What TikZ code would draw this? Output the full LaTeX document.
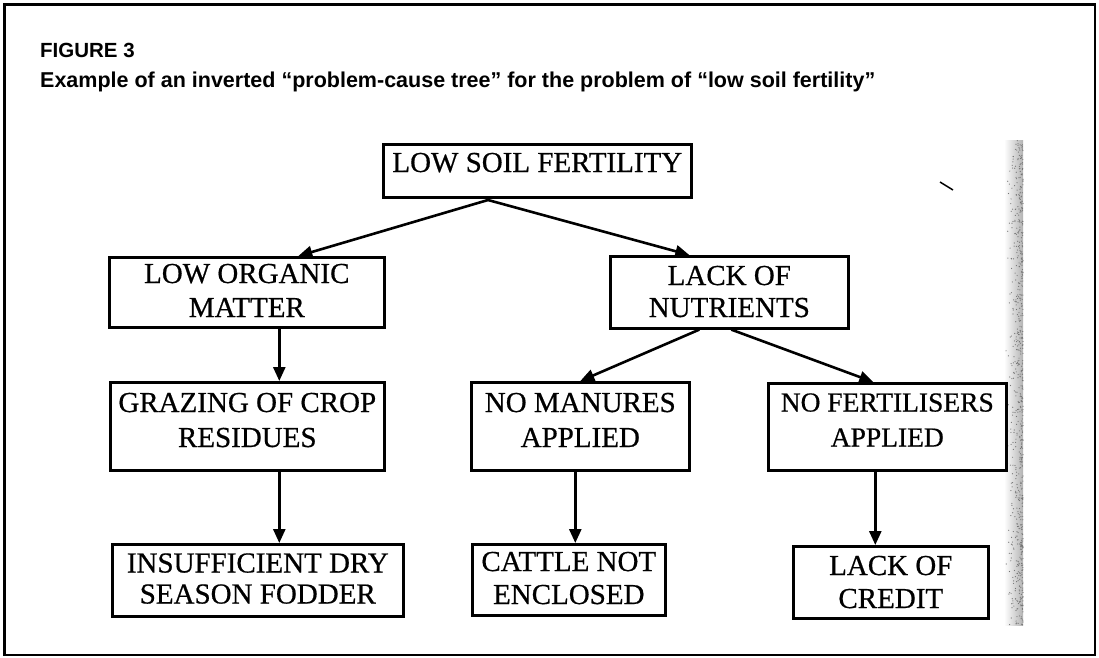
\documentclass[tikz,border=0pt]{standalone}
\usepackage{fontspec}
\setmainfont{Liberation Serif}[FakeBold=0.6]
\newfontfamily\hfont{Liberation Sans}
\usetikzlibrary{arrows.meta}
% box text: width, height, top gap, line spacing, font size, lines
\newcommand{\btext}[6]{\parbox[c][#2pt][t]{#1pt}{\centering\fontsize{#5}{#4}\selectfont\vspace*{#3pt}#6\par}}
\begin{document}
\begin{tikzpicture}[x=1pt,y=-1pt,
  box/.style={draw, line width=2.6pt, inner sep=0pt, anchor=north west},
  arr/.style={line width=2.6pt, -{Triangle[length=14pt,width=12pt]}},
  ttl/.style={anchor=base west, inner sep=0pt}]
\useasboundingbox (0,0) rectangle (1099,657);
\draw[line width=2.5pt] (4.5,4.5) rectangle (1095,655);

% scan artefacts
\pgfmathsetseed{7}
\shade[left color=white, right color=black!30] (1004,140) rectangle (1023,625);
\foreach \i in {1,...,700}{
  \fill[black!55] ({1023-19*rnd*rnd},{140+485*rnd}) circle (0.6pt);
}
\draw[line width=1.5pt] (940,182) -- (953,190);

\node[ttl, font=\hfont\bfseries\fontsize{20.5}{21}\selectfont] (fig) at (40,57) {FIGURE 3};
\node[ttl, font=\hfont\bfseries\fontsize{21.5}{22}\selectfont] (cap) at (40,87)
  {Example of an inverted “problem-cause tree” for the problem of “low soil fertility”};

\node[box] (lsf)  at (382,143) {\btext{308}{53}{8.5}{34}{29}{LOW SOIL FERTILITY}};
\node[box] (lom)  at (108,256) {\btext{275}{70}{6.5}{34}{29}{LOW ORGANIC\\MATTER}};
\node[box] (lon)  at (609,255) {\btext{238}{72}{9.5}{32}{29}{LACK OF\\NUTRIENTS}};
\node[box] (graz) at (109,381) {\btext{274}{88}{10.5}{35}{29}{GRAZING OF CROP\\RESIDUES}};
\node[box] (nm)   at (470,381) {\btext{218}{88}{10.5}{35}{29}{NO MANURES\\APPLIED}};
\node[box] (nf)   at (767,382) {\btext{238}{87}{10}{35}{27.5}{NO FERTILISERS\\APPLIED}};
\node[box] (ins)  at (111,543) {\btext{291}{72}{9}{31}{29}{INSUFFICIENT DRY\\SEASON FODDER}};
\node[box] (cat)  at (471,543) {\btext{193}{71}{7.5}{33}{29}{CATTLE NOT\\ENCLOSED}};
\node[box] (loc)  at (792,545) {\btext{195}{72}{9.5}{33}{29}{LACK OF\\CREDIT}};

\coordinate (j) at (488,200);
\draw[arr] (j) -- ([xshift=51.5pt]lom.north);
\draw[arr] (j) -- ([xshift=-40pt]lon.north);
\draw[arr] ([xshift=32.5pt]lom.south) -- ([xshift=32pt]graz.north);
\draw[arr] ([xshift=-30pt]lon.south) -- (nm.north);
\draw[arr] ([xshift=2pt]lon.south) -- ([xshift=-14pt]nf.north);
\draw[arr] ([xshift=32pt]graz.south) -- ([xshift=21.5pt]ins.north);
\draw[arr] ([xshift=-5pt]nm.south) -- ([xshift=6.5pt]cat.north);
\draw[arr] ([xshift=-12pt]nf.south) -- ([xshift=-15.5pt]loc.north);
\end{tikzpicture}
\end{document}
